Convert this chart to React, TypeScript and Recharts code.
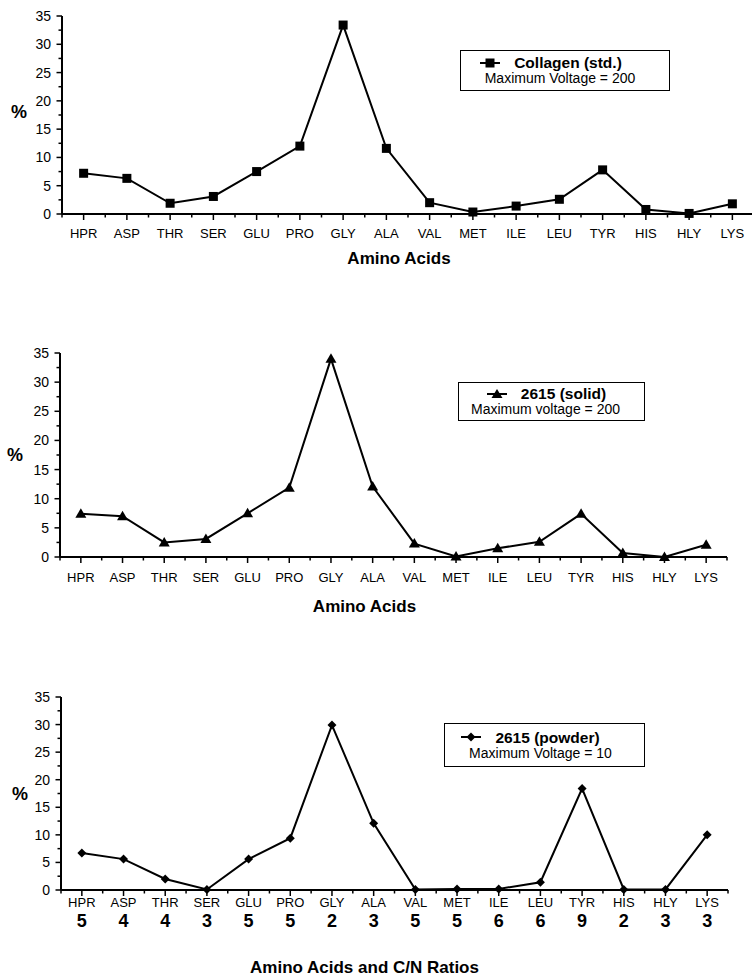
import React from 'react';
import { LineChart, Line, XAxis, YAxis, Legend } from 'recharts';

const aminoAcids = ['HPR', 'ASP', 'THR', 'SER', 'GLU', 'PRO', 'GLY', 'ALA', 'VAL', 'MET', 'ILE', 'LEU', 'TYR', 'HIS', 'HLY', 'LYS'];
const cnRatios = [5, 4, 4, 3, 5, 5, 2, 3, 5, 5, 6, 6, 9, 2, 3, 3];
const collagenStd = [7.2, 6.3, 1.9, 3.1, 7.5, 12.0, 33.4, 11.6, 2.0, 0.35, 1.4, 2.6, 7.8, 0.8, 0.1, 1.8];
const solid2615 = [7.4, 7.0, 2.5, 3.1, 7.5, 11.9, 34.0, 12.1, 2.3, 0.1, 1.5, 2.6, 7.4, 0.7, 0.0, 2.1];
const powder2615 = [6.7, 5.6, 2.0, 0.1, 5.6, 9.4, 29.9, 12.1, 0.1, 0.2, 0.2, 1.4, 18.4, 0.1, 0.1, 10.0];
const yTicks = [0, 2.5, 5, 7.5, 10, 12.5, 15, 17.5, 20, 22.5, 25, 27.5, 30, 32.5, 35];
const xTicks = aminoAcids.flatMap((_, i) => [i - 0.5, i]).concat([aminoAcids.length - 0.5]);

const FONT = '"Liberation Sans", Arial, Helvetica, sans-serif';

const toRows = (values: number[]) => aminoAcids.map((name, i) => ({ idx: i, name, value: values[i] }));

const SquareDot = (props: any) => {
  const { cx, cy, index } = props;
  if (cx == null || cy == null) return <g key={index} />;
  return <rect key={index} x={cx - 4.5} y={cy - 4.5} width={9} height={9} fill="#000" />;
};
const TriangleDot = (props: any) => {
  const { cx, cy, index } = props;
  if (cx == null || cy == null) return <g key={index} />;
  return <polygon key={index} points={`${cx},${cy - 5.5} ${cx - 5.5},${cy + 4} ${cx + 5.5},${cy + 4}`} fill="#000" />;
};
const DiamondDot = (props: any) => {
  const { cx, cy, index } = props;
  if (cx == null || cy == null) return <g key={index} />;
  return <polygon key={index} points={`${cx},${cy - 4.5} ${cx + 4.5},${cy} ${cx},${cy + 4.5} ${cx - 4.5},${cy}`} fill="#000" />;
};

const makeXTick = (labelDy: number, showCN: boolean, cnDy: number) => (props: any) => {
  const { x, y, payload } = props;
  const v = payload.value;
  const major = Number.isInteger(v);
  if (!major) {
    return <line x1={x} x2={x} y1={y} y2={y + 3.5} stroke="#000" strokeWidth={1.5} />;
  }
  return (
    <g>
      <line x1={x} x2={x} y1={y} y2={y + 6} stroke="#000" strokeWidth={1.5} />
      <text x={x} y={y + labelDy} textAnchor="middle" fontSize={13} fontFamily={FONT} fill="#000">
        {aminoAcids[v]}
      </text>
      {showCN && (
        <text x={x} y={y + cnDy} textAnchor="middle" fontSize={18} fontWeight="bold" fontFamily={FONT} fill="#000">
          {cnRatios[v]}
        </text>
      )}
    </g>
  );
};

const YTick = (props: any) => {
  const { x, y, payload } = props;
  const v = payload.value;
  const major = v % 5 === 0;
  return (
    <g>
      <line x1={x} x2={x - (major ? 5.5 : 3.5)} y1={y} y2={y} stroke="#000" strokeWidth={1.5} />
      {major && (
        <text x={x - 11} y={y} dy={5} textAnchor="end" fontSize={14} fontFamily={FONT} fill="#000">
          {v}
        </text>
      )}
    </g>
  );
};

const LegendBox = ({ marker, title, subtitle, rowShift, subShift }: any) => (
  <div
    style={{
      boxSizing: 'border-box',
      width: '100%',
      height: '100%',
      border: '1.5px solid #000',
      background: '#fff',
      fontFamily: FONT,
      color: '#000',
      display: 'flex',
      flexDirection: 'column',
      justifyContent: 'center',
      alignItems: 'center',
      lineHeight: 1.1,
    }}
  >
    <div style={{ display: 'flex', alignItems: 'center', fontWeight: 'bold', fontSize: 15.5, position: 'relative', left: rowShift }}>
      <svg width={20} height={12} style={{ display: 'block' }}>
        <line x1={0} x2={20} y1={6} y2={6} stroke="#000" strokeWidth={2} />
        {marker}
      </svg>
      <span style={{ marginLeft: 14 }}>{title}</span>
    </div>
    <div style={{ fontSize: 14, position: 'relative', left: subShift }}>{subtitle}</div>
  </div>
);

const Panel = ({ cfg }: any) => {
  const data = toRows(cfg.values);
  return (
    <div style={{ position: 'absolute', left: 0, top: cfg.top }}>
      <LineChart width={cfg.width} height={cfg.height} data={data} margin={{ top: cfg.marginTop, right: cfg.marginRight, left: 0, bottom: 0 }}>
        <XAxis
          dataKey="idx"
          type="number"
          domain={[-0.5, aminoAcids.length - 0.5]}
          ticks={xTicks}
          interval={0}
          height={cfg.xAxisHeight}
          tickSize={0}
          tickMargin={0}
          tickLine={false}
          axisLine={{ stroke: '#000', strokeWidth: 2 }}
          tick={makeXTick(cfg.labelDy, cfg.showCN, cfg.cnDy)}
          label={{
            value: cfg.xTitle,
            position: 'insideBottom',
            offset: cfg.titleOffset,
            dx: cfg.titleDx,
            style: { fontFamily: FONT, fontSize: 17, fontWeight: 'bold', fill: '#000' },
          }}
        />
        <YAxis
          type="number"
          domain={[0, 35]}
          ticks={yTicks}
          interval={0}
          width={cfg.yAxisWidth}
          tickSize={0}
          tickMargin={0}
          tickLine={false}
          axisLine={{ stroke: '#000', strokeWidth: 2 }}
          tick={YTick}
          label={{
            value: '%',
            position: 'insideLeft',
            offset: cfg.pctOffset,
            dy: cfg.pctDy,
            style: { fontFamily: FONT, fontSize: 18, fontWeight: 'bold', fill: '#000' },
          }}
        />
        <Legend
          layout="horizontal"
          verticalAlign="middle"
          align="center"
          wrapperStyle={{ left: cfg.legend.left, top: cfg.legend.top, width: cfg.legend.width, height: cfg.legend.height }}
          content={() => (
            <LegendBox marker={cfg.legendMarker} title={cfg.legend.title} subtitle={cfg.legend.subtitle} rowShift={cfg.legend.rowShift} subShift={cfg.legend.subShift} />
          )}
        />
        <Line
          type="linear"
          dataKey="value"
          name={cfg.legend.title}
          stroke="#000"
          strokeWidth={2}
          dot={cfg.dot}
          activeDot={false}
          isAnimationActive={false}
        />
      </LineChart>
    </div>
  );
};

const panels = [
  {
    top: 0,
    width: 754,
    height: 272,
    marginTop: 16,
    marginRight: 0,
    yAxisWidth: 62,
    xAxisHeight: 58,
    labelDy: 24,
    showCN: false,
    cnDy: 0,
    xTitle: 'Amino Acids',
    titleOffset: 8,
    titleDx: -9,
    pctOffset: 11,
    pctDy: -3,
    values: collagenStd,
    dot: SquareDot,
    legendMarker: <rect x={5.5} y={1.5} width={9} height={9} fill="#000" />,
    legend: { left: 460, top: 50, width: 210, height: 41, title: 'Collagen (std.)', subtitle: 'Maximum Voltage = 200', rowShift: -14, subShift: -5 },
  },
  {
    top: 310,
    width: 752,
    height: 312,
    marginTop: 43,
    marginRight: 25,
    yAxisWidth: 60,
    xAxisHeight: 65,
    labelDy: 25,
    showCN: false,
    cnDy: 0,
    xTitle: 'Amino Acids',
    titleOffset: 10,
    titleDx: -29,
    pctOffset: 7,
    pctDy: 0,
    values: solid2615,
    dot: TriangleDot,
    legendMarker: <polygon points="10,1 4.5,10 15.5,10" fill="#000" />,
    legend: { left: 458, top: 72, width: 187, height: 39, title: '2615 (solid)', subtitle: 'Maximum voltage = 200', rowShift: -5, subShift: -6 },
  },
  {
    top: 660,
    width: 752,
    height: 318,
    marginTop: 37,
    marginRight: 24,
    yAxisWidth: 61,
    xAxisHeight: 88,
    labelDy: 17,
    showCN: true,
    cnDy: 37,
    xTitle: 'Amino Acids and C/N Ratios',
    titleOffset: 5,
    titleDx: -30,
    pctOffset: 12,
    pctDy: 0,
    values: powder2615,
    dot: DiamondDot,
    legendMarker: <polygon points="10,1.5 14.5,6 10,10.5 5.5,6" fill="#000" />,
    legend: { left: 444, top: 63, width: 201, height: 44, title: '2615 (powder)', subtitle: 'Maximum Voltage = 10', rowShift: -14, subShift: -4 },
  },
];

export default function App() {
  return (
    <div style={{ position: 'absolute', left: 0, top: 0, width: 752, height: 979, overflow: 'hidden', background: '#fff' }}>
      {panels.map((cfg, i) => (
        <Panel key={i} cfg={cfg} />
      ))}
    </div>
  );
}
